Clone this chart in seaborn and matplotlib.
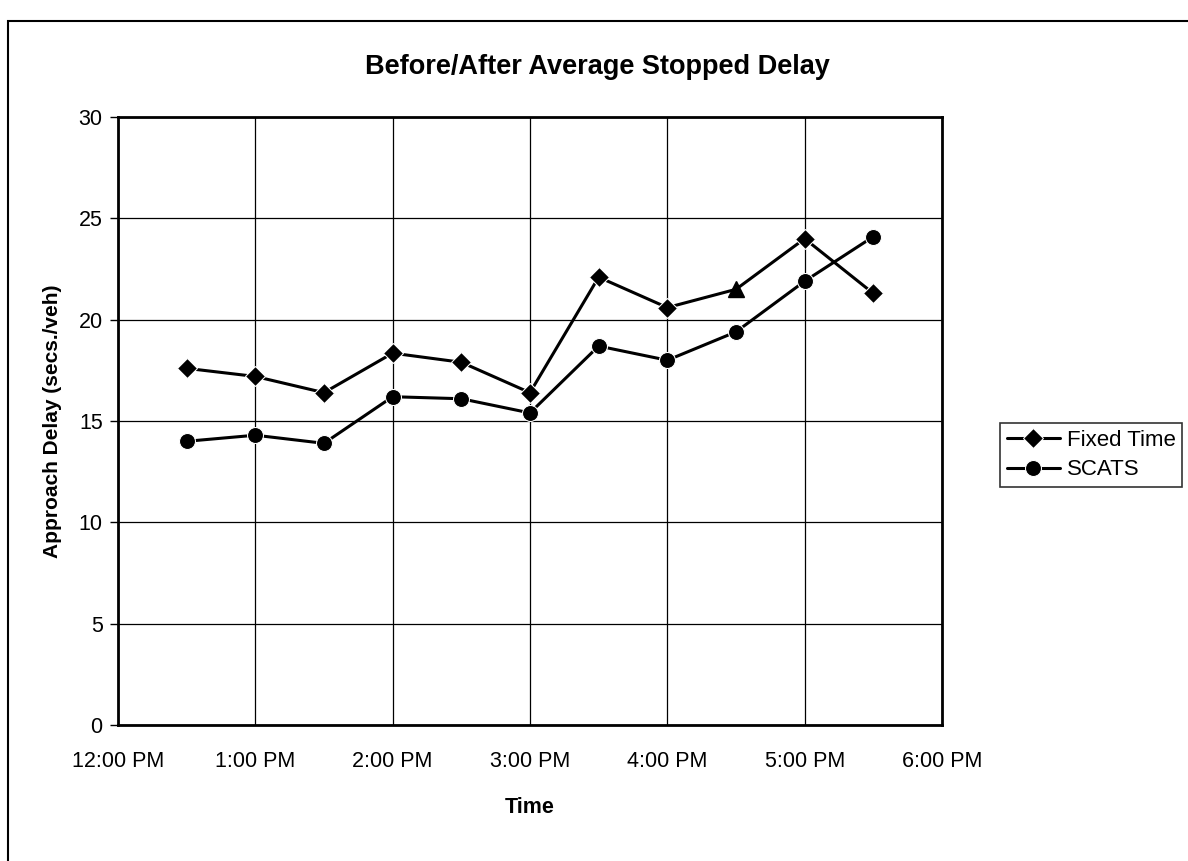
import pandas as pd
import matplotlib.pyplot as plt
import seaborn as sns
from matplotlib.patches import Rectangle

# data (x = hour of day, 12.5 = 12:30 PM)
hours = [12.5, 13.0, 13.5, 14.0, 14.5, 15.0, 15.5, 16.0, 16.5, 17.0, 17.5]
fixed_time = [17.6, 17.2, 16.4, 18.35, 17.9, 16.4, 22.1, 20.6, 21.5, 24.0, 21.3]
scats = [14.0, 14.3, 13.9, 16.2, 16.1, 15.4, 18.7, 18.0, 19.4, 21.9, 24.1]
tick_hours = [12, 13, 14, 15, 16, 17, 18]
tick_labels = ["12:00 PM", "1:00 PM", "2:00 PM", "3:00 PM", "4:00 PM", "5:00 PM", "6:00 PM"]
odd_point = 8  # 4:30 PM Fixed Time point is drawn as a triangle

sns.set_theme(style="white")
plt.rcParams['font.family'] = ['Liberation Sans', 'DejaVu Sans']
plt.rcParams.update({'text.color': 'black', 'axes.labelcolor': 'black',
                     'xtick.color': 'black', 'ytick.color': 'black'})

df = pd.DataFrame({"Time": hours, "Fixed Time": fixed_time, "SCATS": scats})

fig = plt.figure(figsize=(11.88, 8.61), dpi=100)
ax = fig.add_axes([0.0993, 0.158, 0.6936, 0.706])

# page frame around the chart
fig.patches.append(Rectangle((8 / 1188, -0.1), 1.2, 1 - 21 / 861 + 0.1, transform=fig.transFigure,
                             fill=False, edgecolor='black', linewidth=1.5))

ft_marks = [i for i in range(len(hours)) if i != odd_point]
sns.lineplot(x="Time", y="Fixed Time", data=df, ax=ax, color='black', linewidth=2.2,
             marker='D', markersize=10.5, markevery=ft_marks, label="Fixed Time")
ax.plot(hours[odd_point], fixed_time[odd_point], marker='^', markersize=12, color='black', linestyle='none')
sns.lineplot(x="Time", y="SCATS", data=df, ax=ax, color='black', linewidth=2.2,
             marker='o', markersize=11.5, label="SCATS")

ax.set_xlim(12, 18)
ax.set_ylim(0, 30)
ax.set_xticks(tick_hours)
ax.set_xticklabels(tick_labels)
ax.set_yticks(range(0, 31, 5))
ax.grid(True, color='black', linewidth=0.9)
for s in ax.spines.values():
    s.set_color('black')
    s.set_linewidth(2)
ax.tick_params(axis='y', which='both', left=True, length=6, width=1, labelsize=15.5, pad=5)
ax.tick_params(axis='x', bottom=False, labelsize=15.5, pad=13)

ax.set_xlabel("Time", fontsize=15.5, fontweight='bold', labelpad=18)
ax.set_ylabel("Approach Delay (secs./veh)", fontsize=15, fontweight='bold', labelpad=12)
fig.text(0.503, 1 - 67 / 861, "Before/After Average Stopped Delay", ha='center', va='center',
         fontsize=19.5, fontweight='bold')

leg = ax.legend(loc='center left', bbox_to_anchor=(1000 / 1188, 1 - 455 / 861), bbox_transform=fig.transFigure,
                frameon=True, fancybox=False, fontsize=16, handlelength=2.4, handletextpad=0.3,
                borderpad=0.3, labelspacing=0.4, borderaxespad=0)
leg.get_frame().set_edgecolor('black')
leg.get_frame().set_linewidth(1.2)

fig.savefig("out.png", dpi=100)
